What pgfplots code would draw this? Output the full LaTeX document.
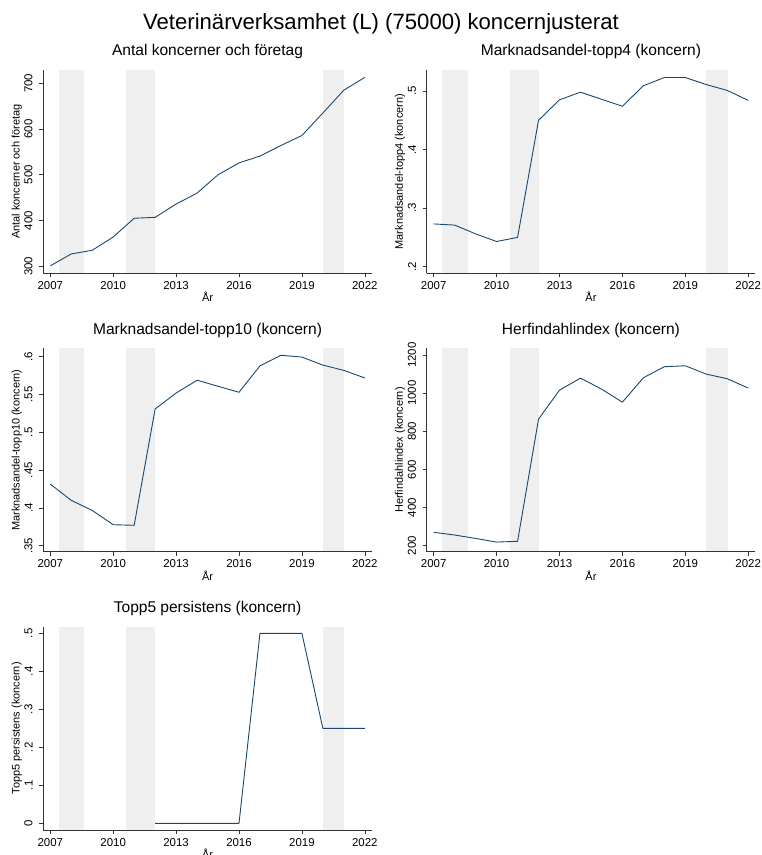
\documentclass[border=0pt]{standalone}
\usepackage{pgfplots}
\pgfplotsset{compat=1.18}
\usepackage{fontspec}
\setmainfont{Liberation Sans}
\definecolor{stline}{HTML}{1A476F}
\definecolor{shade}{HTML}{EFEFEF}
\newcommand{\tickfont}{\fontsize{11.5}{12}\selectfont}
\pgfplotsset{
 stpanel/.style={
  scale only axis, width=328.5bp, height=203.3bp,
  xmin=2006.666, xmax=2022.334,
  axis x line*=bottom, axis y line*=left,
  axis line style={black!80, line width=0.6bp, -},
  axis on top,
  xtick={2007,2010,2013,2016,2019,2022},
  xticklabels={2007,2010,2013,2016,2019,2022},
  tick align=outside, major tick length=4bp,
  tick style={black!80, line width=0.6bp},
  xticklabel style={font=\tickfont, inner sep=0pt, anchor=north, yshift=-4bp},
  yticklabel style={font=\tickfont, inner sep=0pt, rotate=90, anchor=south, yshift=6.5bp},
  xlabel={År},
  xlabel style={font=\fontsize{11}{12}\selectfont, at={(axis description cs:0.5,0)}, anchor=center, inner sep=0pt, yshift=-23.7bp},
  ylabel style={font=\fontsize{11}{12}\selectfont, at={([xshift=-26.6bp]axis description cs:0,0.5)}, anchor=center, inner sep=0pt},
  title style={font=\fontsize{15.6}{16}\selectfont, at={(axis description cs:0.5,1)}, anchor=base, inner sep=0pt, yshift=8.3bp},
  every axis plot/.append style={line join=round},
 },
 dline/.style={stline, line width=0.9bp, mark=none},
 band/.style={fill=shade, draw=none, forget plot},
}
\begin{document}
\begin{tikzpicture}
\useasboundingbox (0,0) rectangle (762bp,855bp);
\node[anchor=base, font=\fontsize{22.2}{24}\selectfont, inner sep=0pt] at (381bp,825bp) {Veterinärverksamhet (L) (75000) koncernjusterat};

% Panel 1
\begin{axis}[stpanel, at={(43.3bp,581.7bp)}, anchor=south west,
  ymin=284.7, ymax=729.1, ytick={300,400,500,600,700}, yticklabels={300,400,500,600,700},
  title={Antal koncerner och företag}, ylabel={Antal koncerner och företag}]
\addplot[band] coordinates {(2007.4,284.7) (2008.62,284.7) (2008.62,729.1) (2007.4,729.1)} -- cycle;
\addplot[band] coordinates {(2010.62,284.7) (2012.0,284.7) (2012.0,729.1) (2010.62,729.1)} -- cycle;
\addplot[band] coordinates {(2020.0,284.7) (2021.03,284.7) (2021.03,729.1) (2020.0,729.1)} -- cycle;
\addplot[dline] coordinates {(2007,301) (2008,327) (2009,335) (2010,364) (2011,405) (2012,407) (2013,436) (2014,460) (2015,500) (2016,526) (2017,541) (2018,564) (2019,586) (2020,635) (2021,685) (2022,713)};
\end{axis}

% Panel 2
\begin{axis}[stpanel, at={(426.7bp,581.7bp)}, anchor=south west,
  ymin=0.1887, ymax=0.5359, ytick={0.2,0.3,0.4,0.5}, yticklabels={.2,.3,.4,.5},
  title={Marknadsandel-topp4 (koncern)}, ylabel={Marknadsandel-topp4 (koncern)}]
\addplot[band] coordinates {(2007.4,0.1887) (2008.62,0.1887) (2008.62,0.5359) (2007.4,0.5359)} -- cycle;
\addplot[band] coordinates {(2010.62,0.1887) (2012.0,0.1887) (2012.0,0.5359) (2010.62,0.5359)} -- cycle;
\addplot[band] coordinates {(2020.0,0.1887) (2021.03,0.1887) (2021.03,0.5359) (2020.0,0.5359)} -- cycle;
\addplot[dline] coordinates {(2007,0.273) (2008,0.271) (2009,0.256) (2010,0.243) (2011,0.250) (2012,0.450) (2013,0.485) (2014,0.498) (2015,0.486) (2016,0.474) (2017,0.509) (2018,0.523) (2019,0.523) (2020,0.511) (2021,0.501) (2022,0.484)};
\end{axis}

% Panel 3
\begin{axis}[stpanel, at={(43.3bp,303.3bp)}, anchor=south west,
  ymin=0.3421, ymax=0.6111, ytick={0.35,0.4,0.45,0.5,0.55,0.6}, yticklabels={.35,.4,.45,.5,.55,.6},
  title={Marknadsandel-topp10 (koncern)}, ylabel={Marknadsandel-topp10 (koncern)}]
\addplot[band] coordinates {(2007.4,0.3421) (2008.62,0.3421) (2008.62,0.6111) (2007.4,0.6111)} -- cycle;
\addplot[band] coordinates {(2010.62,0.3421) (2012.0,0.3421) (2012.0,0.6111) (2010.62,0.6111)} -- cycle;
\addplot[band] coordinates {(2020.0,0.3421) (2021.03,0.3421) (2021.03,0.6111) (2020.0,0.6111)} -- cycle;
\addplot[dline] coordinates {(2007,0.4316) (2008,0.410) (2009,0.3967) (2010,0.3778) (2011,0.377) (2012,0.531) (2013,0.552) (2014,0.569) (2015,0.561) (2016,0.553) (2017,0.588) (2018,0.602) (2019,0.5996) (2020,0.589) (2021,0.582) (2022,0.572)};
\end{axis}

% Panel 4
\begin{axis}[stpanel, at={(426.7bp,303.3bp)}, anchor=south west,
  ymin=168.5, ymax=1235.1, ytick={200,400,600,800,1000,1200}, yticklabels={200,400,600,800,1000,1200},
  title={Herfindahlindex (koncern)}, ylabel={Herfindahlindex (koncern)}]
\addplot[band] coordinates {(2007.4,168.5) (2008.62,168.5) (2008.62,1235.1) (2007.4,1235.1)} -- cycle;
\addplot[band] coordinates {(2010.62,168.5) (2012.0,168.5) (2012.0,1235.1) (2010.62,1235.1)} -- cycle;
\addplot[band] coordinates {(2020.0,168.5) (2021.03,168.5) (2021.03,1235.1) (2020.0,1235.1)} -- cycle;
\addplot[dline] coordinates {(2007,270) (2008,256) (2009,238) (2010,219) (2011,223) (2012,864) (2013,1016) (2014,1079) (2015,1022) (2016,953) (2017,1081) (2018,1139) (2019,1144) (2020,1100) (2021,1076) (2022,1027)};
\end{axis}

% Panel 5
\begin{axis}[stpanel, at={(43.3bp,25bp)}, anchor=south west,
  ymin=-0.0176, ymax=0.5174, ytick={0,0.1,0.2,0.3,0.4,0.5}, yticklabels={0,.1,.2,.3,.4,.5},
  title={Topp5 persistens (koncern)}, ylabel={Topp5 persistens (koncern)}]
\addplot[band] coordinates {(2007.4,-0.0176) (2008.62,-0.0176) (2008.62,0.5174) (2007.4,0.5174)} -- cycle;
\addplot[band] coordinates {(2010.62,-0.0176) (2012.0,-0.0176) (2012.0,0.5174) (2010.62,0.5174)} -- cycle;
\addplot[band] coordinates {(2020.0,-0.0176) (2021.03,-0.0176) (2021.03,0.5174) (2020.0,0.5174)} -- cycle;
\addplot[dline] coordinates {(2012,0) (2013,0) (2014,0) (2015,0) (2016,0) (2017,0.5) (2018,0.5) (2019,0.5) (2020,0.25) (2021,0.25) (2022,0.25)};
\end{axis}
\end{tikzpicture}
\end{document}
